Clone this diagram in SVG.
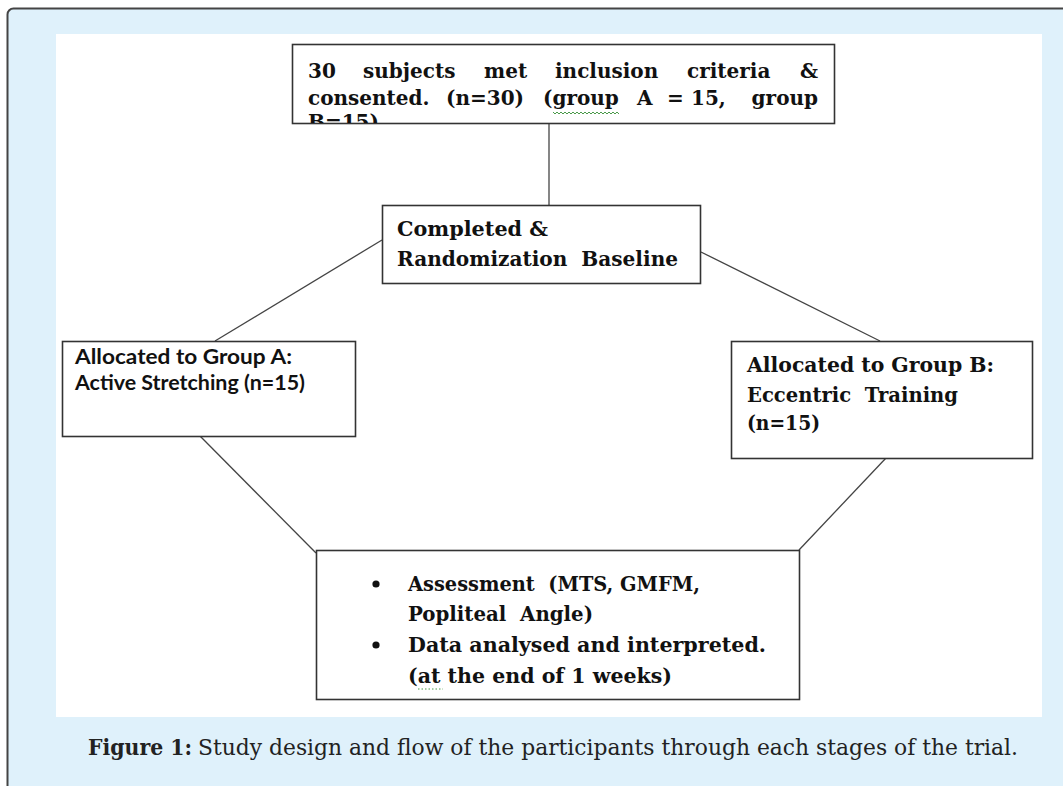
<svg xmlns="http://www.w3.org/2000/svg" width="1063" height="786" viewBox="0 0 1063 786">
  <style>
    .frame { fill: #dff1fb; stroke: #444; stroke-width: 2; }
    .panel { fill: #ffffff; }
    .box { fill: #ffffff; stroke: #333; stroke-width: 1.6; }
    .conn { stroke: #444; stroke-width: 1.3; fill: none; }
    .cb { font-family: "DejaVu Serif", "Liberation Serif", serif; font-weight: bold; font-size: 20px; fill: #111; }
    .cal { font-family: Lato, "Liberation Sans", sans-serif; font-weight: bold; font-size: 21px; fill: #111; }
    .cap { font-family: "DejaVu Serif", "Liberation Serif", serif; font-size: 22px; fill: #222; }
    .squig { stroke: #4a9a4a; stroke-width: 1; fill: none; }
  </style>
  <defs>
    <clipPath id="topclip"><rect x="293" y="45" width="541" height="78"/></clipPath>
  </defs>

  <rect class="frame" x="7.5" y="8.5" width="1080" height="800" rx="6" ry="6"/>
  <rect class="panel" x="56" y="34" width="986" height="683"/>

  <g id="connectors">
    <line class="conn" x1="549" y1="123" x2="549" y2="205"/>
    <line class="conn" x1="382" y1="240" x2="215" y2="341"/>
    <line class="conn" x1="701" y1="252" x2="880" y2="341"/>
    <line class="conn" x1="200" y1="436" x2="316" y2="553"/>
    <line class="conn" x1="886" y1="458" x2="799" y2="550"/>
  </g>

  <g id="node-enrolled">
    <rect class="box" x="292.5" y="44.5" width="542" height="79"/>
    <g clip-path="url(#topclip)">
      <text class="cb" y="78">
        <tspan x="308">30</tspan>
        <tspan x="363">subjects</tspan>
        <tspan x="484">met</tspan>
        <tspan x="555">inclusion</tspan>
        <tspan x="687">criteria</tspan>
      </text>
      <text class="cb" x="818" y="78" text-anchor="end">&amp;</text>
      <text class="cb" y="105">
        <tspan x="308">consented.</tspan>
        <tspan x="446">(n=30)</tspan>
        <tspan x="543">(group</tspan>
        <tspan x="637">A</tspan>
        <tspan x="667">=</tspan>
        <tspan x="691">15,</tspan>
      </text>
      <text class="cb" x="818" y="105" text-anchor="end">group</text>
      <text class="cb" x="308" y="129">B=15)</text>
    </g>
    <path class="squig" d="M553 112 l2 2 l2 -2 l2 2 l2 -2 l2 2 l2 -2 l2 2 l2 -2 l2 2 l2 -2 l2 2 l2 -2 l2 2 l2 -2 l2 2 l2 -2 l2 2 l2 -2 l2 2 l2 -2 l2 2 l2 -2 l2 2 l2 -2 l2 2 l2 -2 l2 2 l2 -2 l2 2 l2 -2 l2 2 l2 -2 l2 2"/>
  </g>

  <g id="node-randomization">
    <rect class="box" x="382.5" y="205.5" width="318" height="78"/>
    <text class="cb" x="397" y="236" font-size="21" textLength="151" lengthAdjust="spacingAndGlyphs">Completed &amp;</text>
    <text class="cb" x="397" y="266" font-size="21" textLength="281" lengthAdjust="spacingAndGlyphs" xml:space="preserve">Randomization  Baseline</text>
  </g>

  <g id="node-group-a">
    <rect class="box" x="62.5" y="341.5" width="293" height="95"/>
    <text class="cal" x="75" y="364" textLength="217" lengthAdjust="spacingAndGlyphs">Allocated to Group A:</text>
    <text class="cal" x="75" y="390" textLength="230" lengthAdjust="spacingAndGlyphs">Active Stretching (n=15)</text>
  </g>

  <g id="node-group-b">
    <rect class="box" x="731.5" y="341.5" width="301" height="117"/>
    <text class="cb" x="747" y="372" font-size="21" textLength="247" lengthAdjust="spacingAndGlyphs">Allocated to Group B:</text>
    <text class="cb" x="747" y="402" font-size="21" textLength="211" lengthAdjust="spacingAndGlyphs" xml:space="preserve">Eccentric  Training</text>
    <text class="cb" x="747" y="430" font-size="21" textLength="73" lengthAdjust="spacingAndGlyphs">(n=15)</text>
  </g>

  <g id="node-assessment">
    <rect class="box" x="316.5" y="550.5" width="483" height="149"/>
    <circle cx="376" cy="584" r="3.6" fill="#111"/>
    <circle cx="376" cy="645" r="3.6" fill="#111"/>
    <text class="cb" x="408" y="591" font-size="21" textLength="292" lengthAdjust="spacingAndGlyphs" xml:space="preserve">Assessment  (MTS, GMFM,</text>
    <text class="cb" x="408" y="621" font-size="21" textLength="185" lengthAdjust="spacingAndGlyphs" xml:space="preserve">Popliteal  Angle)</text>
    <text class="cb" x="408" y="652" font-size="21" textLength="358" lengthAdjust="spacingAndGlyphs">Data analysed and interpreted.</text>
    <text class="cb" x="408" y="683" font-size="21" textLength="264" lengthAdjust="spacingAndGlyphs">(at the end of 1 weeks)</text>
    <line x1="418" y1="689" x2="443" y2="689" stroke="#4a9a4a" stroke-width="1" stroke-dasharray="1.5 2"/>
  </g>

  <g id="caption">
    <text class="cap" x="88" y="755" font-weight="bold" textLength="104" lengthAdjust="spacingAndGlyphs">Figure 1:</text>
    <text class="cap" x="198" y="755" textLength="820" lengthAdjust="spacingAndGlyphs">Study design and flow of the participants through each stages of the trial.</text>
  </g>
</svg>
